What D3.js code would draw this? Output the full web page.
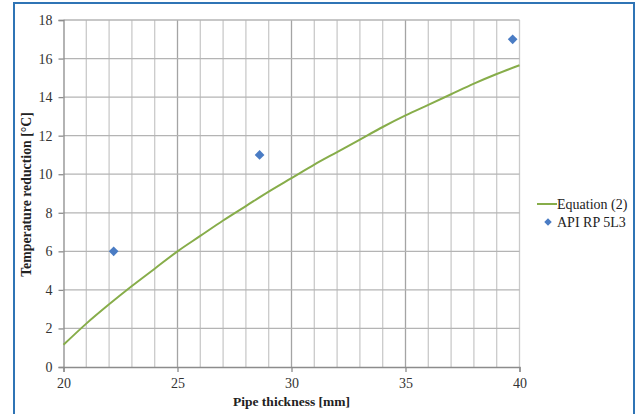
<!DOCTYPE html>
<html>
<head>
<meta charset="utf-8">
<script src="https://cdn.jsdelivr.net/npm/d3@7"></script>
<style>
  body { margin: 0; background: #fff; }
  svg text { font-family: "Liberation Serif", "Times New Roman", serif; }
</style>
</head>
<body>
<script>
// pipe thickness [mm] -> temperature reduction [°C]
var eqThickness = [20, 21, 22, 23, 24, 25, 26, 27, 28, 29, 30, 31, 32, 33, 34, 35, 36, 37, 38, 39, 40];
var eqReduction = [1.15, 2.25, 3.25, 4.2, 5.1, 6.0, 6.8, 7.6, 8.35, 9.1, 9.8, 10.5, 11.15, 11.8, 12.45, 13.05, 13.6, 14.15, 14.7, 15.2, 15.65];
var apiThickness = [22.2, 28.6, 39.7];
var apiReduction = [6, 11, 17];
var xTicks = [20, 25, 30, 35, 40];
var yTicks = [0, 2, 4, 6, 8, 10, 12, 14, 16, 18];
var seriesNames = ['Equation (2)', 'API RP 5L3'];

var W = 640, H = 414;
var margin = {left: 63.5, right: 120.5, top: 20, bottom: 47};
var serif = '"Liberation Serif", "Times New Roman", serif';

var svg = d3.select('body').append('svg').attr('width', W).attr('height', H);

// frame
svg.append('rect').attr('x', 14).attr('y', 3).attr('width', 620).attr('height', 420)
  .attr('fill', 'none').attr('stroke', '#2f74b5').attr('stroke-width', 2);

var x = d3.scaleLinear().domain([20, 40]).range([margin.left, W - margin.right]);
var y = d3.scaleLinear().domain([0, 18]).range([H - margin.bottom, margin.top]);

var g = svg.append('g');

// vertical grid every 1 mm
g.selectAll('.vgrid').data(d3.range(21, 41)).enter().append('line')
  .attr('x1', function (d) { return x(d); }).attr('x2', function (d) { return x(d); })
  .attr('y1', y(0)).attr('y2', y(18))
  .attr('stroke', function (d) { return d % 5 === 0 && d !== 40 ? '#a4a4a4' : '#cacaca'; })
  .attr('stroke-width', 1.3);

// horizontal grid
g.selectAll('.hgrid').data(yTicks.slice(1)).enter().append('line')
  .attr('x1', x(20)).attr('x2', x(40))
  .attr('y1', function (d) { return y(d); }).attr('y2', function (d) { return y(d); })
  .attr('stroke', '#b4b4b4').attr('stroke-width', 1.3);

// axes
var xAxis = d3.axisBottom(x).tickValues(xTicks).tickSize(5).tickPadding(6);
var yAxis = d3.axisLeft(y).tickValues(yTicks).tickSize(5).tickPadding(6);

var gx = svg.append('g').attr('transform', 'translate(0,' + y(0) + ')').call(xAxis);
var gy = svg.append('g').attr('transform', 'translate(' + x(20) + ',0)').call(yAxis);
[gx, gy].forEach(function (a) {
  a.attr('font-family', serif).attr('font-size', 14);
  a.select('.domain').attr('stroke', '#8c8c8c').attr('stroke-width', 1.3);
  a.selectAll('.tick line').attr('stroke', '#8c8c8c').attr('stroke-width', 1.3);
  a.selectAll('.tick text').attr('fill', '#333');
});

// equation curve
var line = d3.line()
  .x(function (d, i) { return x(eqThickness[i]); })
  .y(function (d) { return y(d); })
  .curve(d3.curveMonotoneX);
svg.append('path').datum(eqReduction).attr('d', line)
  .attr('fill', 'none').attr('stroke', '#87ad4a').attr('stroke-width', 2);

// API points
var diamond = d3.symbol().type(d3.symbolDiamond2).size(60);
svg.selectAll('.pt').data(apiReduction).enter().append('path')
  .attr('d', diamond)
  .attr('transform', function (d, i) { return 'translate(' + x(apiThickness[i]) + ',' + y(d) + ')'; })
  .attr('fill', '#4a7cc4');

// axis titles
svg.append('text').attr('x', (x(20) + x(40)) / 2).attr('y', 406)
  .attr('text-anchor', 'middle').attr('font-weight', 'bold').attr('font-size', 13.5)
  .attr('font-family', serif).attr('fill', '#222').text('Pipe thickness [mm]');
svg.append('text').attr('transform', 'translate(31,' + (y(9) + 1) + ') rotate(-90)')
  .attr('text-anchor', 'middle').attr('font-weight', 'bold').attr('font-size', 13.8)
  .attr('font-family', serif).attr('fill', '#222').text('Temperature reduction [°C]');

// legend
var lg = svg.append('g').attr('transform', 'translate(537,204)')
  .attr('font-family', serif).attr('font-size', 14);
lg.append('line').attr('x1', 0).attr('x2', 20).attr('y1', 0).attr('y2', 0)
  .attr('stroke', '#87ad4a').attr('stroke-width', 2);
lg.append('text').attr('x', 20).attr('y', 4.5).attr('fill', '#222').text(seriesNames[0]);
lg.append('path').attr('d', d3.symbol().type(d3.symbolDiamond2).size(36))
  .attr('transform', 'translate(11,18)').attr('fill', '#4a7cc4');
lg.append('text').attr('x', 20).attr('y', 22.5).attr('fill', '#222').text(seriesNames[1]);
</script>
</body>
</html>
